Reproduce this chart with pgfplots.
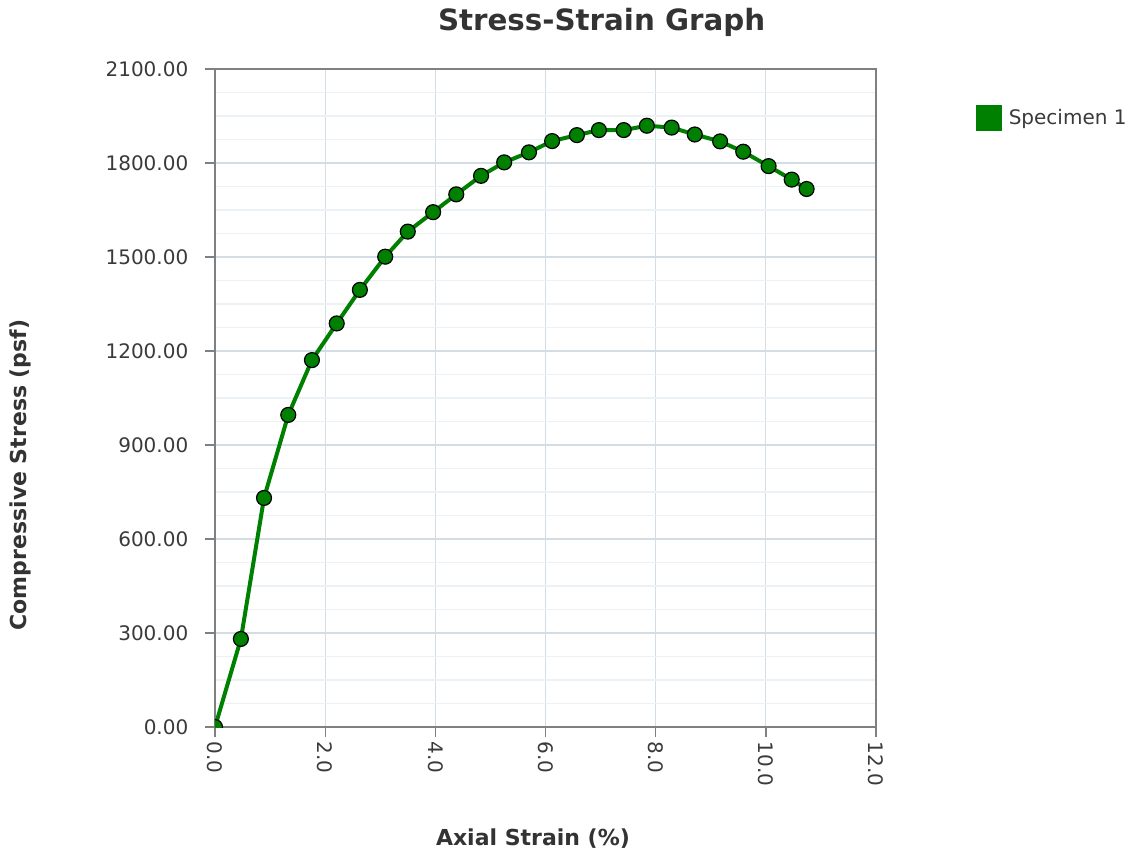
\documentclass[border=0pt]{standalone}
\usepackage{pgfplots}
\pgfplotsset{compat=1.18}
\usepackage{fontspec}
\setmainfont{DejaVu Sans}
\definecolor{specgreen}{RGB}{0,128,0}
\definecolor{gridmajor}{RGB}{210,221,230}
\definecolor{gridminor}{RGB}{236,241,245}
\definecolor{axisgray}{RGB}{128,128,128}
\definecolor{labelgray}{RGB}{58,58,58}
\definecolor{titlegray}{RGB}{51,51,51}
\begin{document}
\begin{tikzpicture}
\useasboundingbox (-161.25pt,-96.75pt) rectangle (696.75pt,545.25pt);
\begin{axis}[
  scale only axis,
  width=495.75pt, height=493.5pt,
  xmin=0, xmax=12, ymin=0, ymax=2100,
  xtick={0,2,...,12}, ytick={0,300,...,2100},
  minor y tick num=3,
  xmajorgrids, ymajorgrids, yminorgrids,
  major grid style={color=gridmajor, line width=0.9pt},
  minor grid style={color=gridminor, line width=0.9pt},
  axis line style={draw=axisgray, line width=1.2pt},
  tick style={draw=axisgray, line width=1pt},
  tick align=outside, xtick pos=left, ytick pos=left,
  major tick length=7.5pt, minor tick length=0pt,
  /pgf/number format/assume math mode=true,
  /pgf/number format/1000 sep={},
  ticklabel style={font=\fontsize{15}{18}\selectfont, text=labelgray},
  yticklabel style={xshift=-9pt, /pgf/number format/.cd, fixed, fixed zerofill, precision=2},
  xticklabel style={rotate=-90, anchor=west, /pgf/number format/.cd, fixed, fixed zerofill, precision=1},
  title={Stress-Strain Graph},
  title style={at={(axis description cs:0.585,1.059)}, anchor=center, font=\bfseries\fontsize{22}{26}\selectfont, text=titlegray},
  xlabel={Axial Strain (\%)},
  xlabel style={at={(axis description cs:0.481,-0.169)}, anchor=center, font=\bfseries\fontsize{16.5}{20}\selectfont, text=titlegray},
  ylabel={Compressive Stress (psf)},
  ylabel style={at={(axis description cs:-0.295,0.383)}, anchor=center, font=\bfseries\fontsize{16.5}{20}\selectfont, text=titlegray},
  legend style={at={(axis description cs:1.145,0.95)}, anchor=north west, draw=none, fill=none, font=\fontsize{15}{18}\selectfont, text=labelgray, nodes={inner xsep=5pt}},
  legend cell align=left,
  clip marker paths=true,
]
\addplot[color=specgreen, line width=3pt, mark=*, mark size=5.6pt,
  mark options={fill=specgreen, draw=black, line width=0.9pt},
  legend image code/.code={\fill[specgreen] (0pt,-8.25pt) rectangle (16.5pt,8.25pt);}]
coordinates {
(0,0)
(0.47,281)
(0.89,731)
(1.33,996)
(1.76,1171)
(2.21,1288)
(2.63,1395)
(3.09,1501)
(3.50,1581)
(3.96,1643)
(4.38,1700)
(4.83,1759)
(5.25,1802)
(5.70,1834)
(6.12,1870)
(6.57,1889)
(6.97,1905)
(7.42,1905)
(7.84,1919)
(8.29,1913)
(8.71,1891)
(9.17,1869)
(9.59,1836)
(10.05,1790)
(10.47,1747)
(10.74,1717)
};
\addlegendentry{Specimen 1}
\end{axis}
\end{tikzpicture}
\end{document}
